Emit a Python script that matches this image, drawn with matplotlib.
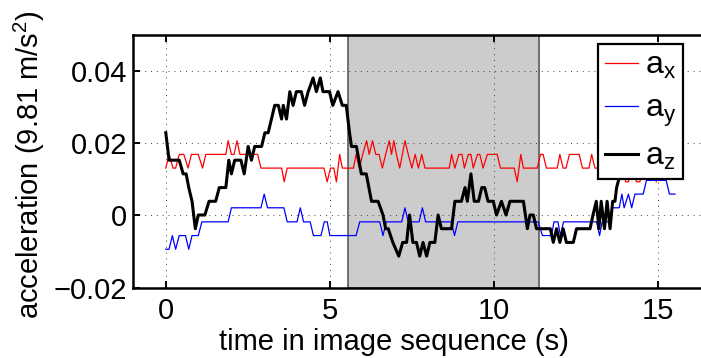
import matplotlib
matplotlib.use("Agg")
import matplotlib.pyplot as plt

plt.rcParams['font.family'] = ['Liberation Sans', 'DejaVu Sans']
plt.rcParams['mathtext.fontset'] = 'custom'
plt.rcParams['mathtext.rm'] = 'Liberation Sans'
plt.rcParams['mathtext.it'] = 'Liberation Sans'

# ---- data (time in s, acceleration in g) ----
t_x = [0.00, 0.10, 0.22, 0.30, 0.41, 0.55, 0.68, 0.78, 0.99, 1.12, 1.22, 1.83, 1.90, 2.00,
       2.08, 2.17, 2.26, 2.80, 2.90, 3.53, 3.61, 3.70, 4.82, 4.92, 5.02, 5.12, 5.20, 5.30,
       5.38, 5.72, 5.80, 5.90, 6.00, 6.12, 6.20, 6.30, 6.40, 6.50, 6.60, 6.70, 6.81, 6.88,
       6.95, 7.03, 7.13, 7.29, 7.39, 7.50, 7.60, 7.70, 7.80, 7.90, 8.64, 8.71, 8.81, 8.93,
       9.03, 9.10, 9.22, 9.30, 9.37, 9.50, 9.57, 9.67, 9.80, 10.10, 10.20, 10.62, 10.71,
       10.82, 10.90, 11.32, 11.42, 11.50, 11.60, 11.93, 12.01, 12.11, 12.20, 12.30, 12.60,
       12.70, 12.90, 12.98, 13.08, 13.90, 14.02, 14.10, 14.22, 14.35, 14.45, 14.55, 14.85,
       14.95, 15.05, 15.55]
a_x = [0.0131, 0.0169, 0.0131, 0.0131, 0.0169, 0.0169, 0.0131, 0.0169, 0.0169, 0.0131,
       0.0169, 0.0169, 0.0207, 0.0169, 0.0169, 0.0207, 0.0169, 0.0169, 0.0131, 0.0131,
       0.0093, 0.0131, 0.0131, 0.0093, 0.0131, 0.0131, 0.0093, 0.0169, 0.0131, 0.0131,
       0.0169, 0.0131, 0.0169, 0.0207, 0.0169, 0.0207, 0.0169, 0.0169, 0.0131, 0.0169,
       0.0207, 0.0169, 0.0207, 0.0169, 0.0131, 0.0207, 0.0169, 0.0131, 0.0169, 0.0131,
       0.0169, 0.0131, 0.0131, 0.0169, 0.0131, 0.0169, 0.0169, 0.0131, 0.0169, 0.0169,
       0.0131, 0.0169, 0.0169, 0.0131, 0.0169, 0.0169, 0.0131, 0.0131, 0.0093, 0.0169,
       0.0131, 0.0131, 0.0169, 0.0169, 0.0131, 0.0131, 0.0169, 0.0131, 0.0131, 0.0169,
       0.0169, 0.0131, 0.0131, 0.0169, 0.0131, 0.0131, 0.0093, 0.0093, 0.0131, 0.0093,
       0.0093, 0.0131, 0.0131, 0.0093, 0.0131, 0.0131]

t_y = [0.00, 0.10, 0.20, 0.30, 0.41, 0.60, 0.70, 0.80, 0.99, 1.10, 1.90, 2.00, 2.90, 3.00,
       3.10, 3.60, 3.70, 4.00, 4.10, 4.20, 4.40, 4.50, 4.73, 4.83, 4.92, 5.00, 5.80, 5.91,
       6.52, 6.62, 6.72, 7.19, 7.29, 7.39, 7.72, 7.82, 7.92, 8.70, 8.80, 8.90, 11.35, 11.48,
       11.76, 11.83, 11.95, 12.03, 12.12, 13.13, 13.22, 13.30, 13.50, 13.60, 13.82, 13.90,
       13.97, 14.10, 14.20, 14.30, 14.55, 14.65, 15.25, 15.35, 15.52]
a_y = [-0.0094, -0.0094, -0.0056, -0.0094, -0.0056, -0.0056, -0.0094, -0.0056, -0.0056,
       -0.0018, -0.0018, 0.0021, 0.0021, 0.0059, 0.0021, 0.0021, -0.0018, -0.0018, 0.0021,
       -0.0018, -0.0018, -0.0056, -0.0056, -0.0018, -0.0018, -0.0056, -0.0056, -0.0018,
       -0.0018, -0.0056, -0.0018, -0.0018, 0.0021, -0.0018, -0.0018, 0.0021, -0.0018,
       -0.0018, -0.0056, -0.0018, -0.0018, -0.0056, -0.0056, -0.0018, -0.0018, -0.0056,
       -0.0018, -0.0018, -0.0056, -0.0018, -0.0018, 0.0021, 0.0021, 0.0059, 0.0021, 0.0059,
       0.0021, 0.0059, 0.0059, 0.0097, 0.0097, 0.0059, 0.0059]

t_z = [0.00, 0.10, 0.41, 0.53, 0.62, 0.70, 0.80, 0.90, 0.99, 1.19, 1.32, 1.52, 1.63, 1.83,
       1.92, 2.00, 2.10, 2.29, 2.39, 2.51, 2.61, 2.71, 2.92, 3.02, 3.12, 3.22, 3.32, 3.43,
       3.53, 3.58, 3.68, 3.78, 3.88, 3.98, 4.13, 4.23, 4.34, 4.49, 4.59, 4.71, 4.79, 4.99,
       5.09, 5.25, 5.38, 5.50, 5.60, 5.66, 5.81, 5.96, 6.11, 6.27, 6.47, 6.62, 6.70, 6.78,
       6.92, 7.10, 7.22, 7.34, 7.43, 7.53, 7.64, 7.74, 7.84, 7.95, 8.05, 8.20, 8.30, 8.40,
       8.71, 8.81, 9.01, 9.12, 9.19, 9.30, 9.40, 9.53, 9.63, 9.72, 9.82, 9.98, 10.08, 10.23,
       10.37, 10.49, 10.90, 11.02, 11.10, 11.20, 11.30, 11.72, 11.81, 11.91, 12.01, 12.11,
       12.21, 12.42, 12.52, 12.93, 13.02, 13.12, 13.20, 13.27, 13.37, 13.45, 13.54, 13.62,
       13.69, 13.74, 13.85, 14.00, 15.50]
a_z = [0.0229, 0.0153, 0.0153, 0.0115, 0.0115, 0.0077, 0.0039, -0.0037, 0.0001, 0.0001,
       0.0039, 0.0039, 0.0077, 0.0077, 0.0153, 0.0115, 0.0153, 0.0153, 0.0115, 0.0191,
       0.0153, 0.0191, 0.0191, 0.0229, 0.0229, 0.0267, 0.0305, 0.0305, 0.0267, 0.0305,
       0.0267, 0.0343, 0.0305, 0.0343, 0.0343, 0.0305, 0.0343, 0.0381, 0.0343, 0.0381,
       0.0343, 0.0343, 0.0305, 0.0343, 0.0305, 0.0305, 0.0229, 0.0191, 0.0191, 0.0115,
       0.0115, 0.0039, 0.0039, 0.0001, -0.0037, -0.0037, -0.0075, -0.0113, -0.0075, -0.0075,
       0.0001, -0.0075, -0.0075, -0.0113, -0.0075, -0.0113, -0.0075, -0.0075, 0.0001,
       -0.0037, -0.0037, 0.0039, 0.0039, 0.0077, 0.0039, 0.0115, 0.0039, 0.0039, 0.0077,
       0.0077, 0.0039, 0.0039, 0.0001, 0.0039, 0.0001, 0.0039, 0.0039, -0.0037, 0.0001,
       0.0001, -0.0037, -0.0037, -0.0075, -0.0037, -0.0075, -0.0037, -0.0075, -0.0075,
       -0.0037, -0.0037, 0.0001, 0.0039, -0.0037, 0.0039, -0.0037, 0.0039, -0.0037, 0.0039,
       0.0039, 0.0077, 0.0115, 0.0153, 0.0153]

shade_start, shade_end = 5.56, 11.37
x_ticks = [0, 5, 10, 15]
y_ticks = [-0.02, 0, 0.02, 0.04]
y_tick_labels = ['\u22120.02', '0', '0.02', '0.04']

# ---- figure ----
fig = plt.figure(figsize=(7.01, 3.58), dpi=100)
ax = fig.add_axes([0.1897, 0.1969, 0.8425, 0.7053])

ax.axvspan(shade_start, shade_end, facecolor='0.8', edgecolor='0.4', lw=1.3, zorder=1)
ax.plot(t_x, a_x, color='red', lw=0.9, label=r'$\mathrm{a}_\mathrm{x}$')
ax.plot(t_y, a_y, color='blue', lw=0.9, label=r'$\mathrm{a}_\mathrm{y}$')
ax.plot(t_z, a_z, color='black', lw=2.2, label=r'$\mathrm{a}_\mathrm{z}$')

ax.set_xlim(-1, 17)
ax.set_ylim(-0.02, 0.05)
ax.set_xticks(x_ticks)
ax.set_yticks(y_ticks)
ax.set_yticklabels(y_tick_labels)
ax.tick_params(direction='in', length=5, width=1.4, labelsize=21,
               top=True, right=True)
ax.tick_params(axis='x', pad=7)
ax.tick_params(axis='y', pad=4)
for s in ax.spines.values():
    s.set_linewidth(1.8)
ax.grid(True, color='0.25', lw=0.7, linestyle=(0, (1, 5)))

ax.set_xlabel('time in image sequence (s)', fontsize=21)
ax.set_ylabel(r'acceleration (9.81 m/s$^\mathrm{2}$)', fontsize=21)
ax.xaxis.set_label_coords(0.442, -0.16)
ax.yaxis.set_label_coords(-0.145, 0.489)

leg = ax.legend(loc='upper right', bbox_to_anchor=(0.931, 0.964), borderaxespad=0,
                fontsize=23, handlelength=1.05, handletextpad=0.2, borderpad=0.22,
                labelspacing=0.4, fancybox=False, framealpha=1)
leg.get_frame().set_edgecolor('k')
leg.get_frame().set_linewidth(1.6)

fig.savefig('out.png', dpi=100)
